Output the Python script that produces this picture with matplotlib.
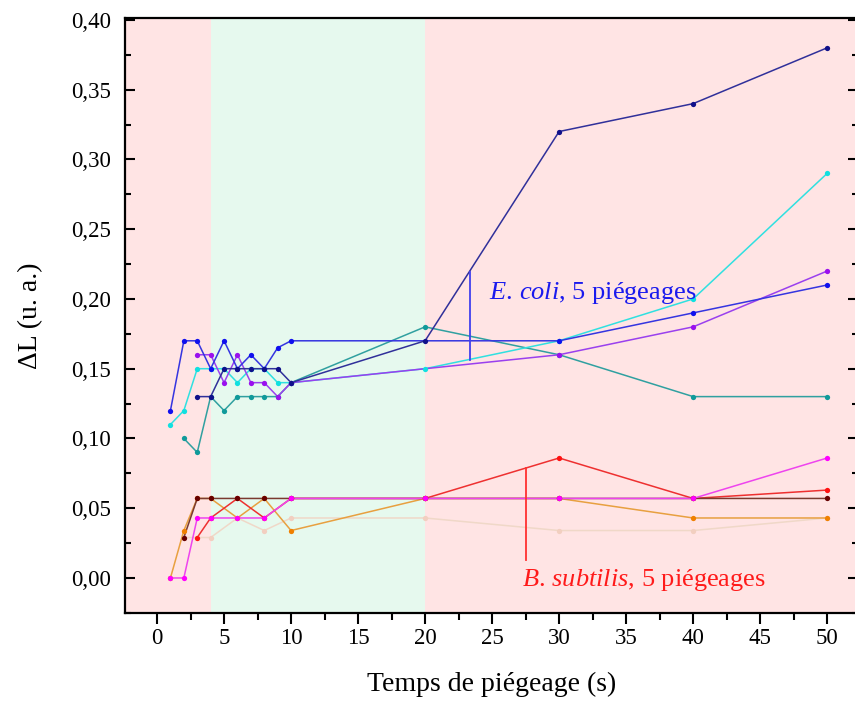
import matplotlib
matplotlib.use('Agg')
import matplotlib.pyplot as plt
from matplotlib.ticker import MultipleLocator, FuncFormatter

plt.rcParams['font.family'] = ['Liberation Serif', 'DejaVu Serif']
plt.rcParams['mathtext.fontset'] = 'custom'
plt.rcParams['mathtext.it'] = 'Liberation Serif:italic'
plt.rcParams['mathtext.rm'] = 'Liberation Serif'

# E. coli (5 piegeages)
t_blue = [1, 2, 3, 4, 5, 6, 7, 8, 9, 10, 30, 40, 50]
l_blue = [0.12, 0.17, 0.17, 0.15, 0.17, 0.15, 0.16, 0.15, 0.165, 0.17, 0.17, 0.19, 0.21]
t_navy = [3, 4, 5, 6, 7, 8, 9, 10, 20, 30, 40, 50]
l_navy = [0.13, 0.13, 0.15, 0.15, 0.15, 0.15, 0.15, 0.14, 0.17, 0.32, 0.34, 0.38]
t_purple = [3, 4, 5, 6, 7, 8, 9, 10, 30, 40, 50]
l_purple = [0.16, 0.16, 0.14, 0.16, 0.14, 0.14, 0.13, 0.14, 0.16, 0.18, 0.22]
t_cyan = [1, 2, 3, 4, 5, 6, 7, 8, 9, 10, 20, 30, 40, 50]
l_cyan = [0.11, 0.12, 0.15, 0.15, 0.15, 0.14, 0.15, 0.15, 0.14, 0.14, 0.15, 0.17, 0.20, 0.29]
t_teal = [2, 3, 4, 5, 6, 7, 8, 9, 10, 20, 30, 40, 50]
l_teal = [0.10, 0.09, 0.13, 0.12, 0.13, 0.13, 0.13, 0.13, 0.14, 0.18, 0.16, 0.13, 0.13]

# B. subtilis (5 piegeages)
t_magenta = [1, 2, 3, 4, 6, 8, 10, 20, 30, 40, 50]
l_magenta = [0, 0, 0.043, 0.043, 0.043, 0.043, 0.057, 0.057, 0.057, 0.057, 0.086]
t_orange = [1, 2, 3, 4, 6, 8, 10, 20, 30, 40, 50]
l_orange = [0, 0.034, 0.057, 0.057, 0.043, 0.057, 0.034, 0.057, 0.057, 0.043, 0.043]
t_red = [3, 4, 6, 8, 10, 20, 30, 40, 50]
l_red = [0.029, 0.043, 0.057, 0.043, 0.057, 0.057, 0.086, 0.057, 0.063]
t_brown = [2, 3, 4, 6, 8, 10, 20, 30, 40, 50]
l_brown = [0.029, 0.057, 0.057, 0.057, 0.057, 0.057, 0.057, 0.057, 0.057, 0.057]
t_peach = [2, 3, 4, 6, 8, 10, 20, 30, 40, 50]
l_peach = [0.029, 0.029, 0.029, 0.043, 0.034, 0.043, 0.043, 0.034, 0.034, 0.043]

fig = plt.figure(figsize=(8.55, 7.02), dpi=100)
ax = fig.add_axes([0.1462, 0.1268, 0.8573, 0.8476])

ax.axvspan(-5, 4, color='#ffe4e4', zorder=0, lw=0)
ax.axvspan(4, 20, color='#e6f9ee', zorder=0, lw=0)
ax.axvspan(20, 60, color='#ffe4e4', zorder=0, lw=0)

def serie(t, l, c, lc=None, a=1.0):
    ax.plot(t, l, color=lc or c, lw=1.1, alpha=a, zorder=2)
    ax.plot(t, l, 'o', color=c, ms=3.8, mec='none', alpha=a, zorder=3)

serie(t_peach, l_peach, '#f2cfc0', '#f0d8c8')
serie(t_orange, l_orange, '#f08000', '#e8a040')
serie(t_red, l_red, '#ff1010', '#ee3030')
serie(t_brown, l_brown, '#660000', '#7a3a30')
serie(t_magenta, l_magenta, '#ff00ff', '#ee44ee')

serie(t_teal, l_teal, '#109a9a', '#30a0a0')
serie(t_cyan, l_cyan, '#10e0e0', '#30e0e0')
serie(t_purple, l_purple, '#9a10ee', '#9a40ee')
serie(t_blue, l_blue, '#1010ee', '#3535e0')
serie(t_navy, l_navy, '#10108a', '#30309a')

# annotations
ax.plot([23.35, 23.35], [0.156, 0.219], color='#4040ee', lw=1.3, zorder=4)
ax.text(24.8, 0.2, r'$\it{E.\,coli}$, 5 piégeages', color='#1a1aee',
        fontsize=19, va='baseline', ha='left', zorder=5)
ax.plot([27.5, 27.5], [0.013, 0.079], color='#ff3030', lw=1.3, zorder=4)
ax.text(27.2, -0.006, r'$\it{B.\,subtilis}$, 5 piégeages', color='#ff1a1a',
        fontsize=19, va='baseline', ha='left', zorder=5)

ax.set_xlim(-2.39, 52.3)
ax.set_ylim(-0.0251, 0.4014)

ax.xaxis.set_major_locator(MultipleLocator(5))
ax.xaxis.set_minor_locator(MultipleLocator(2.5))
ax.yaxis.set_major_locator(MultipleLocator(0.05))
ax.yaxis.set_minor_locator(MultipleLocator(0.025))
ax.yaxis.set_major_formatter(FuncFormatter(lambda v, p: '{:.2f}'.format(v).replace('.', ',')))

ax.tick_params(axis='x', which='major', direction='out', length=8, width=1.5, labelsize=16.5, pad=3)
ax.tick_params(axis='x', which='minor', direction='out', length=5, width=1.5)
ax.tick_params(axis='y', which='major', direction='in', length=7, width=1.5, labelsize=16.5, pad=10, right=True)
ax.tick_params(axis='y', which='minor', direction='in', length=4, width=1.5, right=True)
for s in ax.spines.values():
    s.set_linewidth(1.6)

ax.set_xlabel('Temps de piégeage (s)', fontsize=20, labelpad=16)
ax.set_ylabel('ΔL (u. a.)', fontsize=20, labelpad=20)

fig.savefig('out.png', dpi=100)
